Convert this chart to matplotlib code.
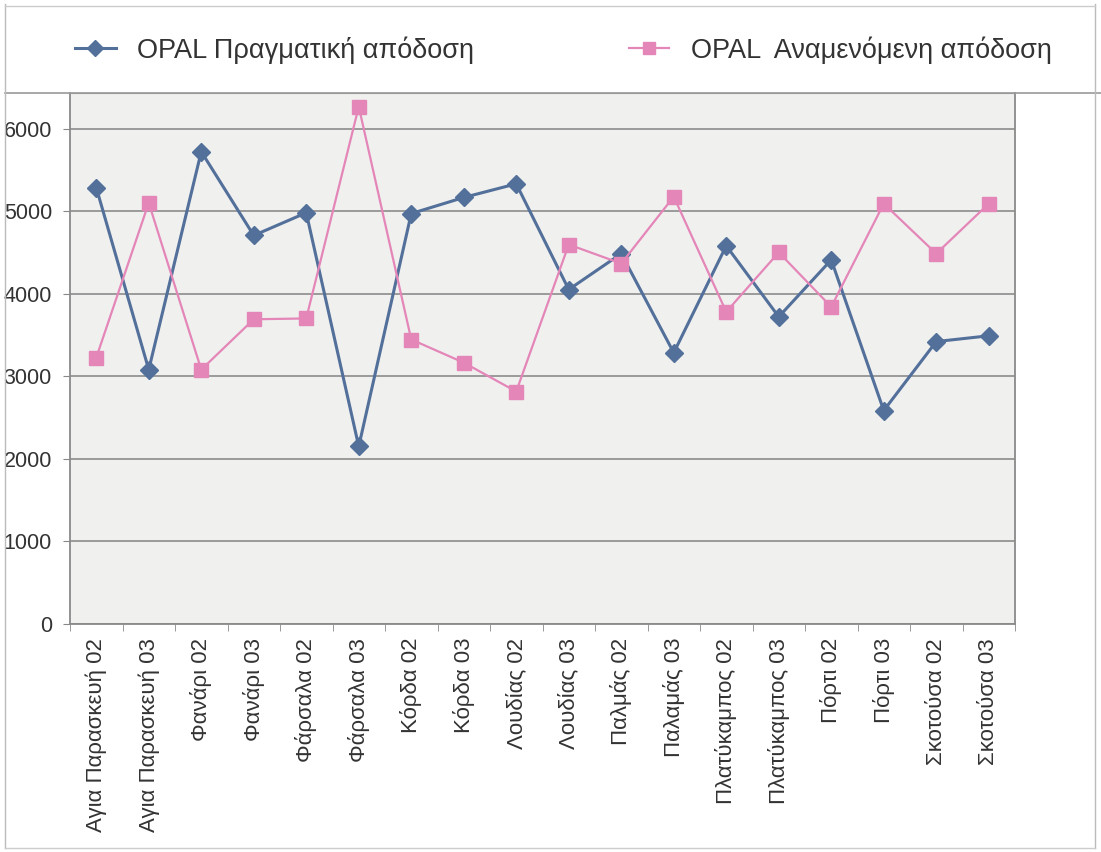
import numpy as np
import matplotlib
matplotlib.use("Agg")
import matplotlib.pyplot as plt
from matplotlib.lines import Line2D

plt.rcParams['font.family'] = ['Liberation Sans', 'DejaVu Sans']

# -----------------------------------------------
# data
# -----------------------------------------------
categories = [
    "Αγια Παρασκευή 02", "Αγια Παρασκευή 03",
    "Φανάρι 02", "Φανάρι 03",
    "Φάρσαλα 02", "Φάρσαλα 03",
    "Κόρδα 02", "Κόρδα 03",
    "Λουδίας 02", "Λουδίας 03",
    "Παλμάς 02", "Παλαμάς 03",
    "Πλατύκαμπος 02", "Πλατύκαμπος 03",
    "Πόρτι 02", "Πόρτι 03",
    "Σκοτούσα 02", "Σκοτούσα 03",
]
actual = [5285, 3080, 5720, 4705, 4980, 2150, 4970, 5165, 5330, 4050,
          4485, 3285, 4580, 3720, 4410, 2585, 3420, 3490]
expected = [3225, 5100, 3080, 3690, 3700, 6265, 3445, 3165, 2815, 4595,
            4365, 5175, 3780, 4500, 3840, 5090, 4485, 5090]
label_actual = "OPAL Πραγματική απόδοση"
label_expected = "OPAL  Αναμενόμενη απόδοση"
yticks = [0, 1000, 2000, 3000, 4000, 5000, 6000]

W, H = 1101, 852
fig = plt.figure(figsize=(W / 100, H / 100), dpi=100)
fig.patch.set_facecolor('white')

left, right, top, bottom = 70, 1015, 93, 624
ax = fig.add_axes([left / W, 1 - bottom / H, (right - left) / W, (bottom - top) / H])
ax.set_facecolor('#f0f0ef')

blue = '#53709a'
pink = '#e486b8'
x = np.arange(len(categories))

ax.plot(x, actual, color=blue, lw=2.2, marker='D', ms=9, mfc=blue, mec=blue, zorder=3)
ax.plot(x, expected, color=pink, lw=1.6, marker='s', ms=10, mfc=pink, mec=pink, zorder=3)

ax.set_xlim(-0.5, len(categories) - 0.5)
ax.set_ylim(0, 6430)
ax.set_yticks(yticks)
ax.set_yticklabels([str(v) for v in yticks], fontsize=15.5, color='#333333')
ax.yaxis.grid(True, color='#8c8c8c', lw=1.2)
ax.set_axisbelow(True)

# category labels at centres, tick marks at boundaries (Excel style)
ax.set_xticks(x)
ax.set_xticklabels(categories, rotation=90, fontsize=16, color='#333333')
ax.tick_params(axis='x', length=0, pad=10)
ax.set_xticks(np.arange(len(categories) + 1) - 0.5, minor=True)
ax.tick_params(axis='x', which='minor', length=5, color='#888888')
ax.tick_params(axis='y', length=5, color='#888888', pad=8)

for side in ['left', 'bottom', 'right']:
    ax.spines[side].set_color('#8a8a8a')
    ax.spines[side].set_linewidth(1.3)
ax.spines['top'].set_color('#999999')

# legend across the top
handles = [
    Line2D([], [], color=blue, lw=2.2, marker='D', ms=8, mfc=blue, mec=blue),
    Line2D([], [], color=pink, lw=1.6, marker='s', ms=9, mfc=pink, mec=pink),
]
fig.legend(handles, [label_actual, label_expected], loc='center left',
           bbox_to_anchor=(75 / W, 1 - 50 / H), ncol=2, frameon=False,
           fontsize=19.5, handlelength=1.5, handletextpad=0.8, columnspacing=5.7,
           borderpad=0, borderaxespad=0, labelcolor='#333333')

# outer chart border and legend separator
fig.add_artist(Line2D([5 / W, 1], [1 - top / H, 1 - top / H], color='#999999', lw=1.2))
fig.add_artist(Line2D([5 / W, 5 / W], [0.005, 0.995], color='#bbbbbb', lw=1.0))
fig.add_artist(Line2D([1095 / W, 1095 / W], [0.005, 0.995], color='#bbbbbb', lw=1.0))
fig.add_artist(Line2D([5 / W, 1095 / W], [1 - 6 / H, 1 - 6 / H], color='#cccccc', lw=1.0))
fig.add_artist(Line2D([5 / W, 1095 / W], [1 - 848 / H, 1 - 848 / H], color='#cccccc', lw=1.0))

fig.savefig('out.png', dpi=100)
